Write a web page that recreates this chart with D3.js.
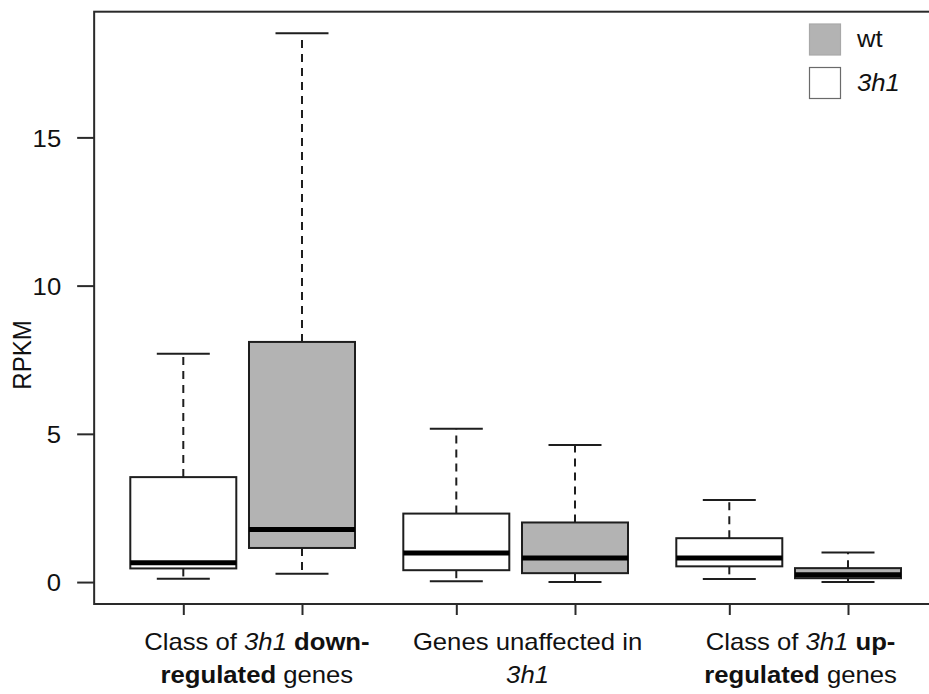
<!DOCTYPE html>
<html>
<head>
<meta charset="utf-8">
<script src="https://cdn.jsdelivr.net/npm/d3@7/dist/d3.min.js"></script>
<style>
  html, body { margin: 0; padding: 0; background: #fff; }
  svg { display: block; font-family: "Liberation Sans", Arial, sans-serif; }
</style>
</head>
<body>
<svg id="chart" width="929" height="694"></svg>
<script>
// Gene classes along the x axis (each label split in two lines of styled runs)
const categories = ["down", "unaffected", "up"];
const categoryLabels = [
  [[["Class of ", "n"], ["3h1", "i"], [" down-", "b"]], [["regulated", "b"], [" genes", "n"]]],
  [[["Genes unaffected in", "n"]], [["3h1", "i"]]],
  [[["Class of ", "n"], ["3h1", "i"], [" up-", "b"]], [["regulated", "b"], [" genes", "n"]]]
];

// Series: box statistics per class as [lower whisker, Q1, median, Q3, upper whisker]
const seriesNames = ["3h1", "wt"];
const mutantStats = [
  [0.11, 0.46, 0.65, 3.54, 7.70],
  [0.03, 0.40, 0.98, 2.31, 5.17],
  [0.10, 0.53, 0.81, 1.48, 2.77]
];
const wildtypeStats = [
  [0.28, 1.15, 1.77, 8.10, 18.51],
  [0.00, 0.30, 0.81, 2.01, 4.62],
  [0.00, 0.13, 0.25, 0.47, 1.00]
];

// Y axis ticks
const yTicks = [0, 5, 10, 15];

// ---- layout ----
const svg = d3.select("#chart");
const GRAY = "#b3b3b3";
const INK = "#1e1e1e";
const TEXT_STRETCH = 1.07;
const FONT = 24;

// box slots: 3h1 then wt inside each class, with a wider gap between classes
const slotPos = [1, 2, 3.3, 4.3, 5.6, 6.6];
const labelPos = [1.62, 3.9, 6.2];

const x = d3.scaleLinear().domain([1, 6.6]).range([183.3, 848]);
const y = d3.scaleLinear().domain([-0.74, 19.24]).range([604, 11.7]);

const boxHalf = 53;
const capHalf = 26.5;

// Plot frame (right edge runs past the canvas)
const fx0 = x(0.249), fx1 = x(7.4);
svg.append("rect")
  .attr("x", fx0).attr("y", y(19.24))
  .attr("width", fx1 - fx0).attr("height", y(-0.74) - y(19.24))
  .attr("fill", "none").attr("stroke", "#2a2a2a").attr("stroke-width", 2);

// Y axis
const yAxis = d3.axisLeft(y).tickValues(yTicks).tickSize(17).tickPadding(0).tickFormat(d3.format("d"));
const yg = svg.append("g").attr("transform", `translate(${fx0},0)`).call(yAxis);
yg.select(".domain").remove();
yg.selectAll(".tick line").attr("stroke", "#2a2a2a").attr("stroke-width", 2);
yg.selectAll(".tick text").remove();
yg.selectAll(".tick").append("text")
  .attr("transform", `translate(-33,0) scale(${TEXT_STRETCH},1)`)
  .attr("text-anchor", "end").attr("dy", "0.36em")
  .attr("fill", "#111").attr("font-size", FONT)
  .attr("font-family", "Liberation Sans, Arial, sans-serif")
  .text(d => d);

// Y axis title
svg.append("text")
  .attr("transform", `translate(31,355) scale(${TEXT_STRETCH},1) rotate(-90)`)
  .attr("text-anchor", "middle")
  .attr("font-size", FONT).attr("fill", "#111")
  .text("RPKM");

// X axis ticks at each box
const xAxis = d3.axisBottom(x).tickValues(slotPos).tickSize(11).tickFormat("");
const xg = svg.append("g").attr("transform", `translate(0,${y(-0.74)})`).call(xAxis);
xg.select(".domain").remove();
xg.selectAll(".tick line").attr("stroke", "#2a2a2a").attr("stroke-width", 2);

// Category labels
categories.forEach((c, i) => {
  const lines = categoryLabels[i];
  lines.forEach((runs, li) => {
    const t = svg.append("text")
      .attr("transform", `translate(${x(labelPos[i])},${650 + li * 33.3}) scale(${TEXT_STRETCH},1)`)
      .attr("text-anchor", "middle")
      .attr("font-size", FONT).attr("fill", "#111");
    runs.forEach(([s, st]) => {
      t.append("tspan")
        .attr("font-style", st === "i" ? "italic" : "normal")
        .attr("font-weight", st === "b" ? "bold" : "normal")
        .text(s);
    });
  });
});

// Boxes
const boxes = [];
categories.forEach((c, i) => {
  boxes.push({ pos: slotPos[2 * i], stats: mutantStats[i], fill: "#ffffff" });
  boxes.push({ pos: slotPos[2 * i + 1], stats: wildtypeStats[i], fill: GRAY });
});

const bg = svg.append("g").selectAll("g").data(boxes).join("g");

// dashed whiskers
bg.append("line")
  .attr("x1", d => x(d.pos)).attr("x2", d => x(d.pos))
  .attr("y1", d => y(d.stats[3])).attr("y2", d => y(d.stats[4]))
  .attr("stroke", INK).attr("stroke-width", 2).attr("stroke-dasharray", "8,6");
bg.append("line")
  .attr("x1", d => x(d.pos)).attr("x2", d => x(d.pos))
  .attr("y1", d => y(d.stats[1])).attr("y2", d => y(d.stats[0]))
  .attr("stroke", INK).attr("stroke-width", 2).attr("stroke-dasharray", "8,6");
// whisker caps
[0, 4].forEach(k => {
  bg.append("line")
    .attr("x1", d => x(d.pos) - capHalf).attr("x2", d => x(d.pos) + capHalf)
    .attr("y1", d => y(d.stats[k])).attr("y2", d => y(d.stats[k]))
    .attr("stroke", INK).attr("stroke-width", 2);
});
// box
bg.append("rect")
  .attr("x", d => x(d.pos) - boxHalf).attr("width", boxHalf * 2)
  .attr("y", d => y(d.stats[3])).attr("height", d => y(d.stats[1]) - y(d.stats[3]))
  .attr("fill", d => d.fill).attr("stroke", INK).attr("stroke-width", 2);
// median
bg.append("line")
  .attr("x1", d => x(d.pos) - boxHalf).attr("x2", d => x(d.pos) + boxHalf)
  .attr("y1", d => y(d.stats[2])).attr("y2", d => y(d.stats[2]))
  .attr("stroke", "#000").attr("stroke-width", 5);

// Legend
const legend = [
  { name: seriesNames[1], fill: GRAY, stroke: "#a8a8a8", italic: false },
  { name: seriesNames[0], fill: "#ffffff", stroke: "#6a6a6a", italic: true }
];
const lg = svg.append("g").selectAll("g").data(legend).join("g")
  .attr("transform", (d, i) => `translate(809,${23.5 + i * 43.5})`);
lg.append("rect")
  .attr("x", 0.5).attr("y", 0.5).attr("width", 31).attr("height", 31)
  .attr("fill", d => d.fill).attr("stroke", d => d.stroke).attr("stroke-width", 1.2);
lg.append("text")
  .attr("transform", `translate(48,23.5) scale(${TEXT_STRETCH},1)`)
  .attr("font-size", FONT).attr("fill", "#111")
  .attr("font-style", d => d.italic ? "italic" : "normal")
  .text(d => d.name);
</script>
</body>
</html>
